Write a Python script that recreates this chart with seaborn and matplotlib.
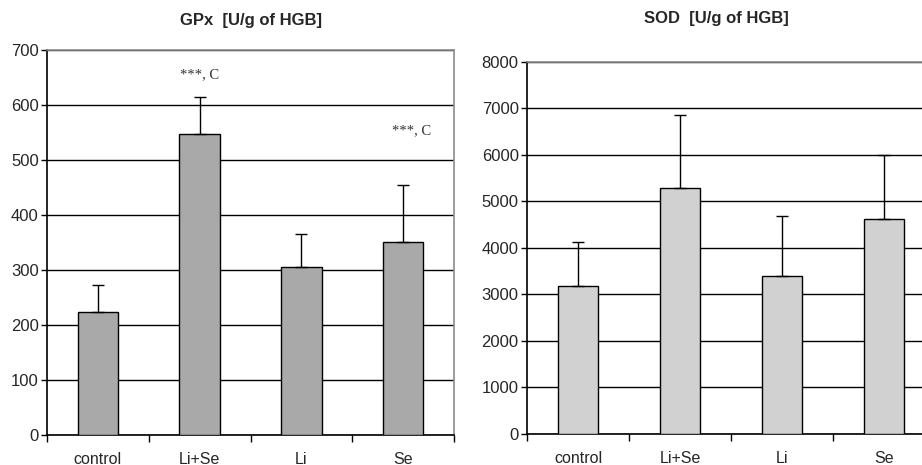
import matplotlib
matplotlib.use("Agg")
import matplotlib.pyplot as plt
import seaborn as sns
import pandas as pd

categories = ["control", "Li+Se", "Li", "Se"]
gpx_mean = [223, 548, 305, 350]
gpx_err = [50, 67, 60, 105]
sod_mean = [3186, 5288, 3401, 4628]
sod_err = [940, 1578, 1291, 1377]
gpx_ticks = [0, 100, 200, 300, 400, 500, 600, 700]
sod_ticks = [0, 1000, 2000, 3000, 4000, 5000, 6000, 7000, 8000]
annot_text = "***, C"
annot_pos = [(1.0, 656), (3.08, 553)]

sns.set_theme(style="white")
plt.rcParams['font.family'] = ['Liberation Sans', 'DejaVu Sans']

fig = plt.figure(figsize=(9.22, 4.65), dpi=100)
axL = fig.add_axes([0.051, 0.0645, 0.4414, 0.828])
axR = fig.add_axes([0.5716, 0.0667, 0.4425, 0.80])

def draw(ax, means, errs, ticks, color):
    df = pd.DataFrame({"cat": categories, "val": means})
    sns.barplot(data=df, x="cat", y="val", color=color, width=0.4,
                edgecolor="black", linewidth=1.0, saturation=1, ax=ax, zorder=3)
    ax.errorbar(range(len(categories)), means, yerr=[[0]*len(errs), errs],
                fmt="none", ecolor="black", elinewidth=1.0, capsize=4,
                capthick=1.0, zorder=4)
    ax.set_xlim(-0.5, len(categories) - 0.5)
    ax.set_ylim(ticks[0], ticks[-1])
    ax.set_yticks(ticks)
    ax.set_yticklabels([str(t) for t in ticks], fontsize=12)
    ax.yaxis.grid(True, color="black", linewidth=1.0, zorder=0)
    ax.set_axisbelow(True)
    ax.set_xticks(range(len(categories)))
    ax.set_xticklabels(categories, fontsize=11.5)
    ax.set_xticks([i - 0.5 for i in range(len(categories) + 1)], minor=True)
    ax.tick_params(axis="x", which="major", length=0, pad=12)
    ax.tick_params(axis="x", which="minor", length=5, width=1.0, color="black",
                   direction="out", bottom=True)
    ax.tick_params(axis="y", length=4, width=1.0, color="black", direction="out",
                   left=True, pad=2)
    ax.set_xlabel("")
    ax.set_ylabel("")
    for s in ["left", "bottom"]:
        ax.spines[s].set_color("black")
        ax.spines[s].set_linewidth(1.2)
    for s in ["top", "right"]:
        ax.spines[s].set_color("#8c8c8c")
        ax.spines[s].set_linewidth(1.2)

draw(axL, gpx_mean, gpx_err, gpx_ticks, "#a8a9a8")
draw(axR, sod_mean, sod_err, sod_ticks, "#d1d1d1")
axL.set_title("GPx  [U/g of HGB]", fontsize=12, fontweight="bold", pad=18)
axR.set_title("SOD  [U/g of HGB]", fontsize=12, fontweight="bold", pad=28,
              x=0.463)

for x, y in annot_pos:
    axL.text(x, y, annot_text, ha="center", va="center", fontsize=10.5,
             family=["Liberation Serif", "DejaVu Serif"], color="#333333", zorder=5)

fig.savefig("out.png", dpi=100)
